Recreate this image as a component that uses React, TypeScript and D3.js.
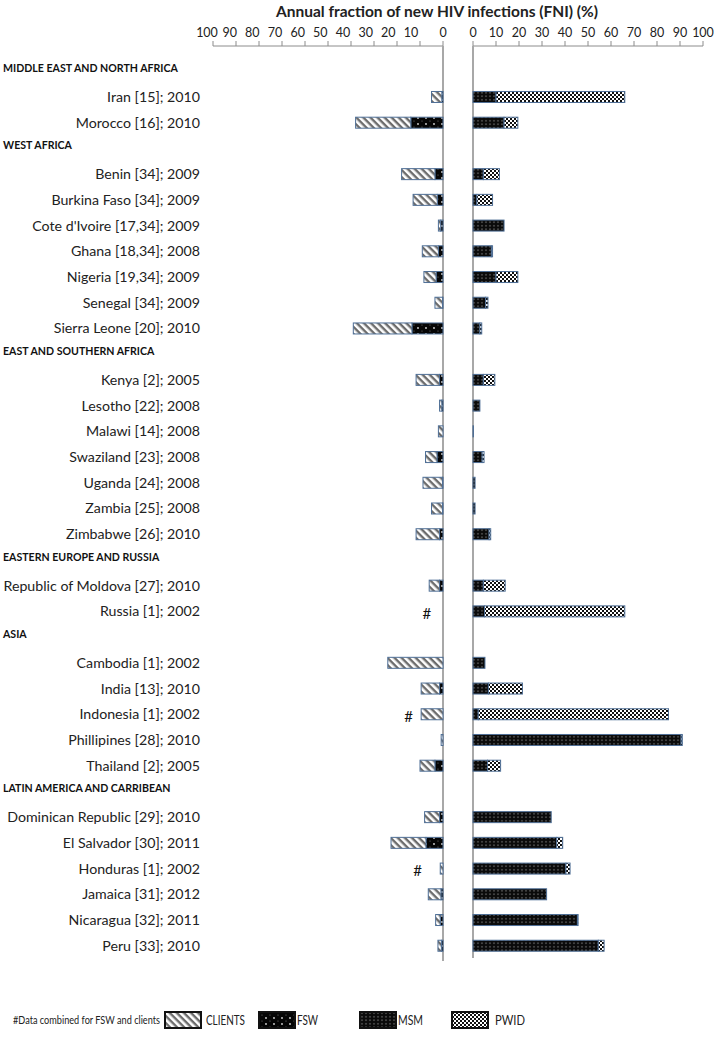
import React from "react";
import * as d3 from "d3";

const regions = [
  "MIDDLE EAST AND NORTH AFRICA",
  "WEST AFRICA",
  "EAST AND SOUTHERN AFRICA",
  "EASTERN EUROPE AND RUSSIA",
  "ASIA",
  "LATIN AMERICA AND CARRIBEAN",
];

const countries = [
  "Iran [15]; 2010",
  "Morocco [16]; 2010",
  "Benin [34]; 2009",
  "Burkina Faso [34]; 2009",
  "Cote d'Ivoire [17,34]; 2009",
  "Ghana [18,34]; 2008",
  "Nigeria [19,34]; 2009",
  "Senegal [34]; 2009",
  "Sierra Leone [20]; 2010",
  "Kenya [2]; 2005",
  "Lesotho [22]; 2008",
  "Malawi [14]; 2008",
  "Swaziland [23]; 2008",
  "Uganda [24]; 2008",
  "Zambia [25]; 2008",
  "Zimbabwe [26]; 2010",
  "Republic of Moldova [27]; 2010",
  "Russia [1]; 2002",
  "Cambodia [1]; 2002",
  "India [13]; 2010",
  "Indonesia [1]; 2002",
  "Phillipines [28]; 2010",
  "Thailand [2]; 2005",
  "Dominican Republic [29]; 2010",
  "El Salvador [30]; 2011",
  "Honduras [1]; 2002",
  "Jamaica [31]; 2012",
  "Nicaragua [32]; 2011",
  "Peru [33]; 2010",
];

const countryRegion = [0, 0, 1, 1, 1, 1, 1, 1, 1, 2, 2, 2, 2, 2, 2, 2, 3, 3, 4, 4, 4, 4, 4, 5, 5, 5, 5, 5, 5];

const clients = [4.5, 24, 14.5, 10.5, 1, 7, 5.3, 3.3, 25.5, 10.2, 1, 2, 5, 8.5, 4.8, 10.2, 4.5, 0, 24, 8, 9.5, 0.8, 6.5, 6.5, 15.2, 1.2, 5.5, 2, 1.5];
const fsw = [0.5, 14, 3.5, 2.5, 1, 2, 3, 0.2, 13.5, 1.5, 0.5, 0, 2.6, 0.2, 0.2, 1.5, 1.5, 0, 0, 1.5, 0, 0, 3.5, 1.5, 7.4, 0, 0.9, 1.2, 0.7];
const msm = [10, 13.5, 4.5, 1.7, 13.5, 8, 10, 5.5, 3, 4.5, 3, 0.2, 4, 0.9, 0.9, 7, 4.5, 5, 5.2, 6.7, 2.3, 90.5, 6.3, 34, 36.4, 40.4, 32, 45.4, 54.5];
const pwid = [56, 6, 7, 6.8, 0, 0.5, 9.5, 1, 0.8, 5, 0, 0, 0.8, 0, 0, 0.7, 9.5, 61, 0, 14.8, 82.7, 0.5, 5.7, 0, 2.6, 1.8, 0, 0.3, 2.5];
// position (on left axis, %) of the "#" marker for combined FSW+clients data
const hashMarks = [null, null, null, null, null, null, null, null, null, null, null, null, null, null, null, null, null, 7, null, null, 15, null, null, null, null, 11, null, null, null];

const tickValues = [0, 10, 20, 30, 40, 50, 60, 70, 80, 90, 100];
const legendItems = ["CLIENTS", "FSW", "MSM", "PWID"];
const legendNote = "#Data combined for FSW and clients";

const FONT = "Lato, 'Open Sans', sans-serif";
const BORDER = "#4f6f96";

type Row = { kind: "region" | "country"; label: string; idx: number };

export default function App() {
  const width = 716;
  const height = 1040;

  const rows: Row[] = [];
  regions.forEach((r, ri) => {
    rows.push({ kind: "region", label: r, idx: ri });
    countries.forEach((c, ci) => {
      if (countryRegion[ci] === ri) rows.push({ kind: "country", label: c, idx: ci });
    });
  });

  const y = d3
    .scaleBand<number>()
    .domain(rows.map((_, i) => i))
    .range([58.4, 958.6])
    .paddingInner(0);

  const xLeft = d3.scaleLinear().domain([0, 100]).range([443, 213]);
  const xRight = d3.scaleLinear().domain([0, 100]).range([473, 703]);
  // the left tick labels sit slightly left of their ticks in the original
  const xLeftLabel = d3.scaleLinear().domain([10, 100]).range([411, 207]);

  const barH = 11;
  const axisY = 46;

  const leftSeries = [
    { key: "FSW", vals: fsw, fill: "url(#pFSW)" },
    { key: "CLIENTS", vals: clients, fill: "url(#pCLIENTS)" },
  ];
  const rightSeries = [
    { key: "MSM", vals: msm, fill: "url(#pMSM)" },
    { key: "PWID", vals: pwid, fill: "url(#pPWID)" },
  ];

  const legendX = [165, 259, 360, 452];
  const legendTextX = [206, 297, 398, 495];
  const legendTextW = [39, 21, 25, 30];

  return (
    <svg
      width={width}
      height={height}
      style={{ position: "absolute", left: 0, top: 0, background: "#fff" }}
      fontFamily={FONT}
    >
      <defs>
        <pattern id="pCLIENTS" patternUnits="userSpaceOnUse" width="5" height="5" patternTransform="rotate(45)">
          <rect width="5" height="5" fill="#ffffff" />
          <rect width="5" height="2.4" fill="#6b6b6b" />
        </pattern>
        <pattern id="pFSW" patternUnits="userSpaceOnUse" width="8" height="6">
          <rect width="8" height="6" fill="#050505" />
          <circle cx="2" cy="4" r="0.9" fill="#d8d8d8" />
          <circle cx="6" cy="1" r="0.6" fill="#777" />
        </pattern>
        <pattern id="pMSM" patternUnits="userSpaceOnUse" width="4" height="3.5">
          <rect width="4" height="3.5" fill="#0a0a0a" />
          <ellipse cx="2" cy="1.75" rx="1.2" ry="0.8" fill="#4a4a4a" />
        </pattern>
        <pattern id="pPWID" patternUnits="userSpaceOnUse" width="4" height="4">
          <rect width="4" height="4" fill="#ffffff" />
          <rect width="2" height="2" fill="#111" />
          <rect x="2" y="2" width="2" height="2" fill="#111" />
        </pattern>
      </defs>

      {/* title */}
      <text x={437} y={17} textAnchor="middle" fontSize={15.5} fontWeight="bold" fill="#222">
        Annual fraction of new HIV infections (FNI) (%)
      </text>

      {/* axes */}
      <g stroke="#8c8c8c" strokeWidth={1}>
        <line x1={xLeft(100)} x2={xLeft(0)} y1={axisY} y2={axisY} />
        <line x1={xRight(0)} x2={xRight(100)} y1={axisY} y2={axisY} />
        {tickValues.map((t) => (
          <line key={"tl" + t} x1={xLeft(t)} x2={xLeft(t)} y1={axisY - 5} y2={axisY} />
        ))}
        {tickValues.map((t) => (
          <line key={"tr" + t} x1={xRight(t)} x2={xRight(t)} y1={axisY - 5} y2={axisY} />
        ))}
      </g>
      <g fontSize={12.5} fill="#222" textAnchor="middle">
        {tickValues.map((t) => (
          <text key={"ll" + t} x={t === 0 ? xLeft(0) : xLeftLabel(t)} y={axisY - 9}>
            {t}
          </text>
        ))}
        {tickValues.map((t) => (
          <text key={"rl" + t} x={xRight(t)} y={axisY - 9}>
            {t}
          </text>
        ))}
      </g>

      {/* zero lines */}
      <line x1={xLeft(0)} x2={xLeft(0)} y1={axisY} y2={961} stroke="#a8a8a8" strokeWidth={2} />
      <line x1={xRight(0)} x2={xRight(0)} y1={axisY} y2={958} stroke="#a8a8a8" strokeWidth={2} />

      {/* rows */}
      {rows.map((r, i) => {
        const cy = (y(i) as number) + y.bandwidth() / 2;
        if (r.kind === "region") {
          return (
            <text key={"r" + i} x={3} y={cy - 3} dy="0.35em" fontSize={10.6} fontWeight="bold" fill="#111">
              {r.label}
            </text>
          );
        }
        const ci = r.idx;
        let accL = 0;
        let accR = 0;
        return (
          <g key={"c" + i}>
            <text x={200} y={cy} dy="0.35em" textAnchor="end" fontSize={14.2} fill="#222">
              {r.label}
            </text>
            {leftSeries.map((s) => {
              const v = s.vals[ci];
              const x0 = xLeft(accL);
              accL += v;
              const x1 = xLeft(accL);
              if (v <= 0) return null;
              return (
                <rect
                  key={s.key}
                  x={x1}
                  y={cy - barH / 2}
                  width={x0 - x1}
                  height={barH}
                  fill={s.fill}
                  stroke={BORDER}
                  strokeWidth={1}
                />
              );
            })}
            {rightSeries.map((s) => {
              const v = s.vals[ci];
              const x0 = xRight(accR);
              accR += v;
              const x1 = xRight(accR);
              if (v <= 0) return null;
              return (
                <rect
                  key={s.key}
                  x={x0}
                  y={cy - barH / 2}
                  width={x1 - x0}
                  height={barH}
                  fill={s.fill}
                  stroke={BORDER}
                  strokeWidth={1}
                />
              );
            })}
            {hashMarks[ci] != null && (
              <text x={xLeft(hashMarks[ci] as number)} y={cy + 2} dy="0.35em" textAnchor="middle" fontSize={15} fill="#111">
                #
              </text>
            )}
          </g>
        );
      })}

      {/* legend */}
      <text x={13} y={1020} dy="0.35em" fontSize={12} fill="#222" textLength={147} lengthAdjust="spacingAndGlyphs">
        {legendNote}
      </text>
      {legendItems.map((k, i) => (
        <g key={"lg" + k}>
          <rect x={legendX[i]} y={1012} width={36} height={16} fill={`url(#p${k})`} stroke="#111" strokeWidth={2} />
          <text
            x={legendTextX[i]}
            y={1020}
            dy="0.36em"
            fontSize={14}
            fill="#222"
            textLength={legendTextW[i]}
            lengthAdjust="spacingAndGlyphs"
          >
            {k}
          </text>
        </g>
      ))}
    </svg>
  );
}
